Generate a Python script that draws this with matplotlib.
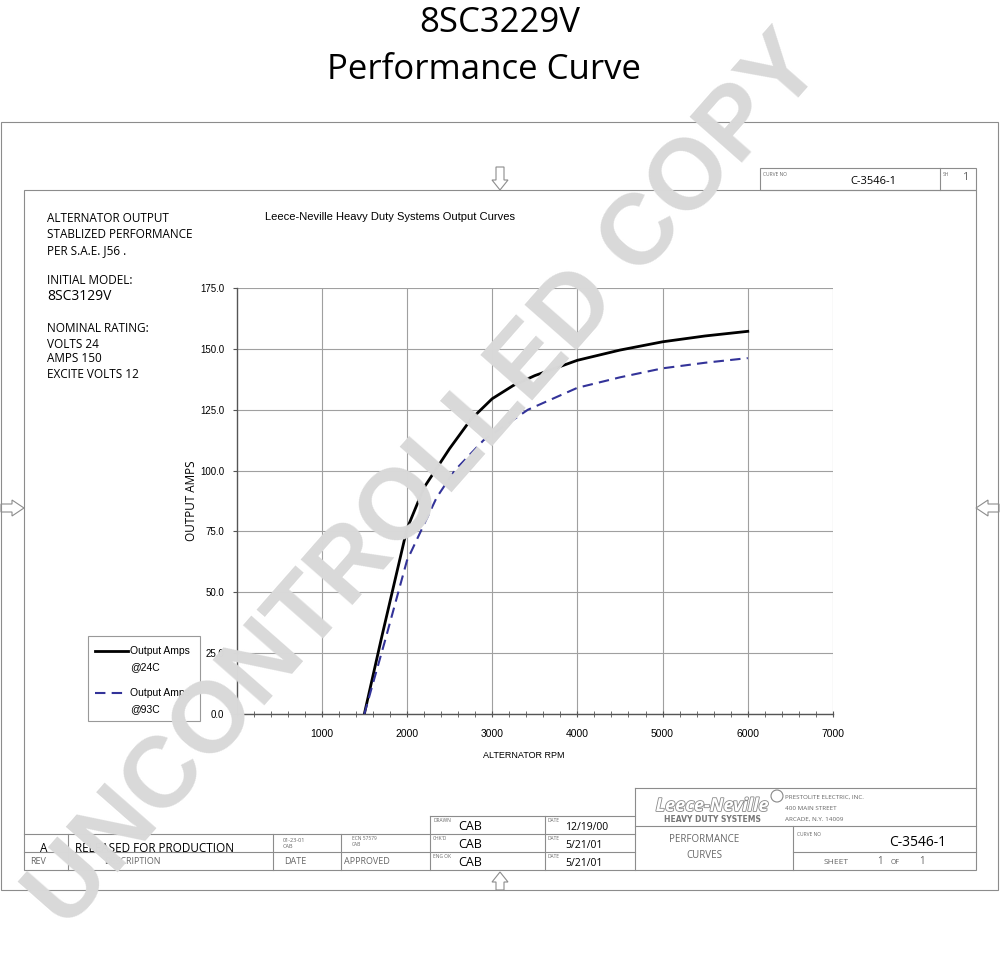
import matplotlib.pyplot as plt
import matplotlib.patheffects as pe
from matplotlib.patches import Rectangle, Polygon, Circle
from matplotlib.ticker import MultipleLocator, FormatStrFormatter

# values
rpm_24c = [1500, 1700, 1800, 2000, 2200, 2500, 2750, 3000, 3250, 3500, 4000, 4500, 5000, 5500, 6000]
amps_24c = [0, 31, 46, 76, 93, 109, 121, 129.5, 135, 139, 145.3, 149.5, 152.9, 155.3, 157.2]
rpm_93c = [1500, 1750, 2000, 2350, 2560, 2900, 3420, 4000, 4500, 5000, 5500, 6000]
amps_93c = [0, 31, 63, 89, 100, 112.5, 125, 134, 138.3, 142, 144.3, 146.2]
x_ticks = [1000, 2000, 3000, 4000, 5000, 6000, 7000]
y_ticks = [0, 25, 50, 75, 100, 125, 150, 175]

NARROW = ['Liberation Sans', 'DejaVu Sans']
MAIN = ['Open Sans', 'DejaVu Sans']
LINE = '#8c8c8c'
GRAYTXT = '#666666'

fig = plt.figure(figsize=(10, 9.6), dpi=100)

# ---- chart ----
ax = fig.add_axes([0.2365, 0.25625, 0.5965, 0.44375])
ax.plot(rpm_24c, amps_24c, color='black', lw=2, zorder=3)
ax.plot(rpm_93c, amps_93c, color='#333399', lw=1.5, ls=(0, (5, 3)), zorder=3)
ax.set_xlim(0, 7000)
ax.set_ylim(0, 175)
ax.set_xticks(x_ticks)
ax.set_yticks(y_ticks)
ax.yaxis.set_major_formatter(FormatStrFormatter('%.1f'))
ax.xaxis.set_minor_locator(MultipleLocator(200))
ax.grid(True, color='#a0a0a0', lw=0.8)
ax.set_axisbelow(True)
for s in ['top', 'right']:
    ax.spines[s].set_visible(False)
for s in ['left', 'bottom']:
    ax.spines[s].set_color('#555555')
    ax.spines[s].set_linewidth(1.0)
ax.tick_params(axis='x', which='major', direction='inout', length=4, pad=9, colors='#555555',
               labelcolor='black', labelsize=7.5)
ax.tick_params(axis='x', which='minor', direction='inout', length=4, colors='#555555')
ax.tick_params(axis='y', which='major', direction='out', length=3, pad=6, colors='#555555',
               labelcolor='black', labelsize=7)
for lab in ax.get_xticklabels() + ax.get_yticklabels():
    lab.set_family(NARROW)
ax.set_ylabel('OUTPUT AMPS', fontsize=8.5, family=MAIN)
ax.yaxis.set_label_coords(-0.064, 0.5)
ax.set_xlabel('ALTERNATOR RPM', fontsize=6.5, family=NARROW)
ax.xaxis.set_label_coords(0.482, -0.087)

# ---- sheet overlay in pixel coordinates ----
ov = fig.add_axes([0, 0, 1, 1], zorder=5)
ov.set_xlim(0, 1000)
ov.set_ylim(960, 0)
ov.axis('off')
ov.patch.set_alpha(0)


def hline(y, x0, x1, **kw):
    ov.plot([x0, x1], [y, y], color=kw.get('color', LINE), lw=kw.get('lw', 0.8))


def vline(x, y0, y1, **kw):
    ov.plot([x, x], [y0, y1], color=kw.get('color', LINE), lw=kw.get('lw', 0.8))


def txt(x, y, s, size, color='black', ha='left', family=MAIN, **kw):
    ov.text(x, y, s, fontsize=size, color=color, ha=ha, va='center', family=family, **kw)


# titles
txt(500, 23, '8SC3229V', 25, ha='center')
txt(484, 70, 'Performance Curve', 25, ha='center')

# frames
ov.add_patch(Rectangle((1, 122), 997, 768, fill=False, ec=LINE, lw=0.8))
ov.add_patch(Rectangle((24, 190), 952, 680, fill=False, ec=LINE, lw=0.8))

# centring arrows
arrow_kw = dict(closed=True, fill=False, ec=LINE, lw=0.8)
ov.add_patch(Polygon([(496, 167), (504, 167), (504, 180), (508, 180), (500, 190),
                      (492, 180), (496, 180)], **arrow_kw))
ov.add_patch(Polygon([(496, 890), (504, 890), (504, 882), (508, 882), (500, 872),
                      (492, 882), (496, 882)], **arrow_kw))
ov.add_patch(Polygon([(1, 504), (12, 504), (12, 500), (24, 508), (12, 516),
                      (12, 512), (1, 512)], **arrow_kw))
ov.add_patch(Polygon([(999, 504), (988, 504), (988, 500), (976, 508), (988, 516),
                      (988, 512), (999, 512)], **arrow_kw))

# top-right curve number box
ov.add_patch(Rectangle((760, 168), 216, 22, fill=False, ec=LINE, lw=0.8))
vline(940, 168, 190)
txt(763, 174, 'CURVE NO', 3.5, color=GRAYTXT)
txt(873, 181, 'C-3546-1', 8, ha='center')
txt(943, 174, 'SH', 3.5, color=GRAYTXT)
txt(965, 178, '1', 8, color=GRAYTXT, ha='center')

# left notes
notes = [(219, 'ALTERNATOR OUTPUT', 8.5), (235, 'STABLIZED PERFORMANCE', 8.5),
         (251, 'PER S.A.E. J56 .', 8.5), (281, 'INITIAL MODEL:', 8.5),
         (297, '8SC3129V', 10), (329, 'NOMINAL RATING:', 8.5), (344, 'VOLTS 24', 8.5),
         (359, 'AMPS 150', 8.5), (374, 'EXCITE VOLTS 12', 8.5)]
for y, s, size in notes:
    txt(47, y, s, size)

txt(390, 217, 'Leece-Neville Heavy Duty Systems Output Curves', 8, ha='center', family=NARROW)

# legend
ov.add_patch(Rectangle((88, 636), 112, 85, fill=False, ec='#999999', lw=0.8))
ov.plot([95, 128], [651, 651], color='black', lw=2)
ov.plot([95, 128], [693, 693], color='#333399', lw=1.5, ls=(0, (5, 3)))
txt(130, 651, 'Output Amps', 7.5, family=NARROW)
txt(130, 667, '@24C', 7.5, family=NARROW)
txt(130, 693, 'Output Amps', 7.5, family=NARROW)
txt(130, 709, '@93C', 7.5, family=NARROW)

# revision table
hline(834, 24, 635)
hline(852, 24, 635)
for x in [68, 273, 341]:
    vline(x, 834, 870)
vline(430, 816, 870)
vline(545, 816, 870)
hline(816, 430, 635)
txt(44, 848, 'A', 8.5, ha='center')
txt(75, 848, 'RELEASED FOR PRODUCTION', 8.5)
txt(38, 862, 'REV', 6.5, color=GRAYTXT, ha='center')
txt(104, 862, 'DESCRIPTION', 6.5, color=GRAYTXT)
txt(295, 862, 'DATE', 6.5, color=GRAYTXT, ha='center')
txt(367, 862, 'APPROVED', 6.5, color=GRAYTXT, ha='center')
txt(283, 840, '01-23-01', 4, color=GRAYTXT)
txt(283, 846, 'CAB', 4, color=GRAYTXT)
txt(352, 839, 'ECN 57579', 3.5, color=GRAYTXT)
txt(352, 845, 'CAB', 3.5, color=GRAYTXT)

# drawn / checked block
for y0, lab, date in [(816, 'DRAWN', '12/19/00'), (834, "CHK'D", '5/21/01'), (852, 'ENG OK', '5/21/01')]:
    txt(433, y0 + 5, lab, 3.5, color=GRAYTXT)
    txt(458, y0 + 11, 'CAB', 9)
    txt(548, y0 + 5, 'DATE', 3.5, color=GRAYTXT)
    txt(565, y0 + 12, date, 7.5)

# company block
hline(788, 635, 976)
hline(826, 635, 976)
vline(635, 788, 870)
vline(793, 826, 870)
hline(852, 793, 976)
ov.text(712, 806, 'Leece-Neville', fontsize=13, style='italic', fontweight='bold', color='white',
        ha='center', va='center', family=MAIN,
        path_effects=[pe.withStroke(linewidth=1.2, foreground='#8a8a8a')])
txt(712, 820, 'HEAVY DUTY SYSTEMS', 5.5, color='#777777', ha='center', fontweight='bold',
    family='DejaVu Sans')
ov.add_patch(Circle((777, 796), 6, fill=False, ec='#888888', lw=0.8))
txt(785, 797, 'PRESTOLITE ELECTRIC, INC.', 4.5, color=GRAYTXT)
txt(785, 808, '400 MAIN STREET', 4.5, color=GRAYTXT)
txt(785, 819, 'ARCADE, N.Y. 14009', 4.5, color=GRAYTXT)
txt(704, 840, 'PERFORMANCE', 7, color=GRAYTXT, ha='center')
txt(704, 856, 'CURVES', 7, color=GRAYTXT, ha='center')
txt(797, 834, 'CURVE NO', 3.5, color=GRAYTXT)
txt(918, 843, 'C-3546-1', 10, ha='center')
txt(836, 862, 'SHEET', 6, color=GRAYTXT, ha='center')
txt(880, 861, '1', 7, color=GRAYTXT, ha='center')
txt(895, 862, 'OF', 5, color=GRAYTXT, ha='center')
txt(922, 861, '1', 7, color=GRAYTXT, ha='center')

# watermark
ov.text(427, 482, 'UNCONTROLLED COPY', fontsize=72, fontweight='bold', color='#d9d9d9',
        rotation=48.7, rotation_mode='anchor', ha='center', va='center',
        family=['Liberation Sans', 'DejaVu Sans'], zorder=10)

fig.savefig('out.png', dpi=100)
